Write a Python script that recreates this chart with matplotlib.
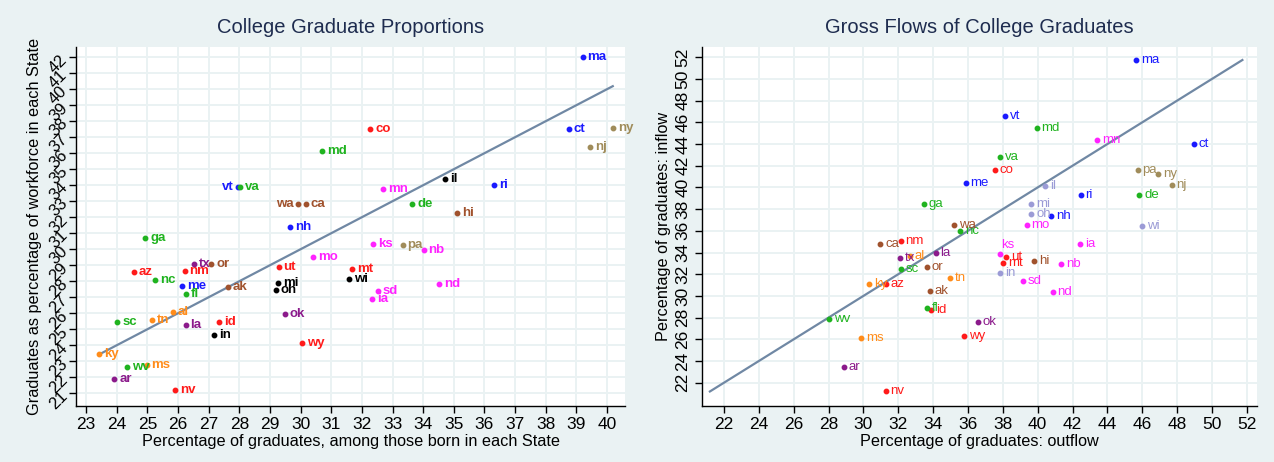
import numpy as np
import matplotlib
matplotlib.use('Agg')
import matplotlib.pyplot as plt

plt.rcParams['font.family'] = ['Liberation Sans', 'DejaVu Sans']

# state codes and census-like groups (used for colours)
states = ['ma', 'ct', 'ri', 'vt', 'nh', 'me',
          'co', 'az', 'nm', 'ut', 'mt', 'id', 'wy', 'nv',
          'md', 'va', 'ga', 'nc', 'fl', 'de', 'sc', 'wv',
          'wa', 'ca', 'hi', 'or', 'ak',
          'ny', 'nj', 'pa',
          'il', 'mi', 'oh', 'wi', 'in',
          'mn', 'mo', 'ks', 'nb', 'nd', 'sd', 'ia',
          'tx', 'la', 'ok', 'ar',
          'tn', 'al', 'ky', 'ms']
groups = ['ne'] * 6 + ['mtn'] * 8 + ['sa'] * 8 + ['pac'] * 5 + ['mid'] * 3 \
         + ['enc'] * 5 + ['wnc'] * 7 + ['wsc'] * 4 + ['esc'] * 4

# left panel: share among those born in the state vs share of workforce
born = [39.21, 38.76, 36.32, 27.95, 29.65, 26.14,
        32.27, 24.57, 26.21, 29.28, 31.68, 27.33, 30.06, 25.91,
        30.70, 28.02, 24.93, 25.25, 26.25, 33.65, 24.02, 24.34,
        29.92, 30.18, 35.11, 27.09, 27.63,
        40.19, 39.44, 33.33,
        34.71, 29.27, 29.19, 31.59, 27.18,
        32.69, 30.41, 32.36, 34.02, 34.52, 32.52, 32.33,
        26.51, 26.25, 29.49, 23.92,
        25.16, 25.83, 23.43, 24.97]
workforce = [42.00, 37.50, 34.04, 33.87, 31.41, 27.71,
             37.52, 28.56, 28.64, 28.87, 28.75, 25.44, 24.12, 21.23,
             36.12, 33.90, 30.73, 28.10, 27.21, 32.81, 25.44, 22.66,
             32.81, 32.85, 32.29, 29.08, 27.66,
             37.56, 36.37, 30.27,
             34.41, 27.87, 27.44, 28.14, 24.62,
             33.75, 29.54, 30.33, 29.93, 27.81, 27.39, 26.89,
             29.08, 25.25, 25.94, 21.89,
             25.56, 26.10, 23.46, 22.77]

# right panel: gross flows
outflow = [45.65, 48.95, 42.47, 38.14, 40.76, 35.87,
           37.53, 31.28, 32.14, 38.20, 38.03, 33.88, 35.77, 31.28,
           39.94, 37.83, 33.46, 35.56, 33.66, 45.83, 32.14, 28.04,
           35.21, 30.97, 39.80, 33.65, 33.80,
           46.92, 47.69, 45.74,
           40.43, 39.63, 39.63, 45.98, 37.83,
           43.42, 39.37, 37.83, 41.35, 40.86, 39.15, 42.44,
           32.08, 34.15, 36.55, 28.88,
           34.97, 32.67, 30.34, 29.86]
inflow = [51.75, 44.02, 39.31, 46.55, 37.41, 40.37,
          41.57, 31.10, 35.10, 33.56, 33.01, 28.73, 26.33, 21.19,
          45.44, 42.79, 38.48, 35.96, 28.85, 39.26, 32.48, 27.90,
          36.51, 34.82, 33.19, 32.70, 30.42,
          41.25, 40.18, 41.60,
          40.09, 38.52, 37.53, 36.42, 32.15,
          44.39, 36.54, 33.90, 32.98, 30.33, 31.35, 34.83,
          33.53, 34.00, 27.59, 23.47,
          31.65, 33.72, 31.10, 26.08]

colors_left = {'ne': '#1a1aff', 'mtn': '#ff1a1a', 'sa': '#1fb31f', 'pac': '#a0522d',
               'mid': '#a08c5a', 'enc': '#000000', 'wnc': '#ff22ff', 'wsc': '#8b1a8b',
               'esc': '#ff8c1a'}
colors_right = dict(colors_left)
colors_right['enc'] = '#9b9bd6'

bg = '#eaf2f3'
navy = '#1e2c4f'
line_col = '#7088a4'

fig = plt.figure(figsize=(12.74, 4.62), dpi=100, facecolor=bg)
ax1 = fig.add_axes([0.0597, 0.1212, 0.4309, 0.7778])
ax2 = fig.add_axes([0.5508, 0.1212, 0.4356, 0.7778])


def style(ax):
    ax.set_facecolor('white')
    ax.grid(True, color=bg, linewidth=1.4)
    ax.set_axisbelow(True)
    for s in ['top', 'right']:
        ax.spines[s].set_visible(False)
    ax.spines['left'].set_linewidth(1.0)
    ax.spines['bottom'].set_linewidth(1.0)
    ax.tick_params(direction='out', length=5, width=1.0, labelsize=12.5, colors='black', pad=3)


def scatter_labels(ax, xs, ys, cmap, bold, special):
    for st, g, x, y in zip(states, groups, xs, ys):
        c = cmap[g]
        ax.plot(x, y, 'o', color=c, markersize=3.2, zorder=3)
        pos = special.get(st, 'right')
        if pos == 'left':
            off, ha, va = (-3, 0), 'right', 'center'
        elif pos == 'above':
            off, ha, va = (1, 2), 'left', 'bottom'
        else:
            off, ha, va = (3.5, 0), 'left', 'center'
        ax.annotate(st, (x, y), xytext=off, textcoords='offset points', ha=ha, va=va,
                    color=c, fontsize=9.5, fontweight='bold' if bold else 'normal', zorder=4)


# left panel
style(ax1)
lo, hi = min(born), max(born)
ax1.plot([lo, hi], [lo, hi], color=line_col, linewidth=1.6, zorder=2)
scatter_labels(ax1, born, workforce, colors_left, True, {'vt': 'left', 'wa': 'left'})
ax1.set_xlim(22.67, 40.59)
ax1.set_ylim(20.2, 42.66)
ax1.set_xticks(np.arange(23, 41, 1))
ax1.set_yticks(np.arange(21, 43, 1))
for lbl in ax1.get_yticklabels():
    lbl.set_rotation(45)
    lbl.set_rotation_mode('anchor')
    lbl.set_ha('right')
    lbl.set_va('center')
    lbl.set_fontsize(12)
ax1.set_title('College Graduate Proportions', color=navy, fontsize=14.5, pad=10)
ax1.set_xlabel('Percentage of graduates, among those born in each State', fontsize=11.7, labelpad=1)
ax1.set_ylabel('Graduates as percentage of workforce in each State', fontsize=11.7, labelpad=3)

# right panel
style(ax2)
allv = outflow + inflow
lo, hi = min(allv), max(allv)
ax2.plot([lo, hi], [lo, hi], color=line_col, linewidth=1.6, zorder=2)
scatter_labels(ax2, outflow, inflow, colors_right, False, {'ks': 'above'})
ax2.set_xlim(20.72, 52.57)
ax2.set_ylim(19.85, 52.98)
ax2.set_xticks(np.arange(22, 53, 2))
ax2.set_yticks(np.arange(22, 53, 2))
for lbl in ax2.get_yticklabels():
    lbl.set_rotation(90)
    lbl.set_va('center')
ax2.set_title('Gross Flows of College Graduates', color=navy, fontsize=14.5, pad=10)
ax2.set_xlabel('Percentage of graduates: outflow', fontsize=11.7, labelpad=1)
ax2.set_ylabel('Percentage of graduates: inflow', fontsize=11.7, labelpad=3)

fig.savefig('out.png', dpi=100, facecolor=bg)
